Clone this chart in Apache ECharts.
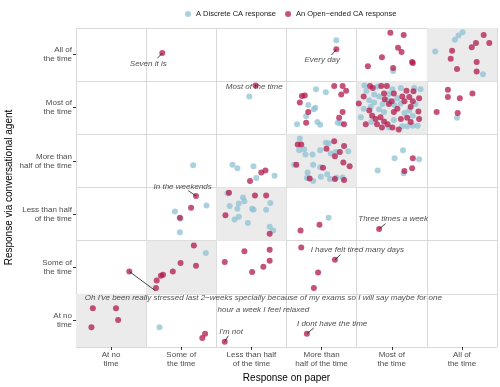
<!DOCTYPE html>
<html>
<head>
<meta charset="utf-8">
<script src="https://cdn.jsdelivr.net/npm/echarts@6/dist/echarts.min.js"></script>
<style>html,body{margin:0;padding:0;background:#fff}#c{width:500px;height:387px}</style>
</head>
<body>
<div id="c"></div>
<script>
// Categories (x: response on paper, y: response via conversational agent; bottom to top)
const xCategories = ["At no\ntime", "Some of\nthe time", "Less than half\nof the time", "More than\nhalf of the time", "Most of\nthe time", "All of\nthe time"];
const yCategories = ["At no\ntime", "Some of\nthe time", "Less than half\nof the time", "More than\nhalf of the time", "Most of\nthe time", "All of\nthe time"];
const seriesNames = ["A Discrete CA response", "An Open\u2212ended CA response"];

// Jittered points: [x, y] where integer part = category index, fraction = jitter within cell
const discretePoints = [
  [3.71,5.77],[5.51,5.92],[5.45,5.86],[5.40,5.78],[5.12,5.56],[5.80,5.13],[4.52,5.19],
  [2.47,4.71],[3.42,4.85],[3.56,4.79],[3.31,4.55],[3.41,4.50],[3.39,4.47],[3.28,4.34],[3.15,4.19],[3.44,4.23],[3.48,4.18],[3.73,4.22],[3.77,4.21],
  [4.11,4.92],[4.30,4.90],[4.51,4.85],[4.63,4.87],[4.82,4.87],[4.14,4.82],[4.25,4.75],[4.46,4.76],[4.32,4.71],[4.44,4.64],[4.18,4.64],[4.58,4.68],
  [4.25,4.60],[4.63,4.58],[4.84,4.57],[4.10,4.48],[4.32,4.47],[4.39,4.42],[4.75,4.45],[4.80,4.35],[4.65,4.15],[4.72,4.15],[4.80,4.16],[4.87,4.16],
  [4.53,4.27],[4.20,4.52],[4.68,4.40],[4.37,4.57],[4.54,4.55],[4.06,4.32],[4.91,4.85],[4.46,4.13],[4.21,4.23],
  [5.43,4.31],
  [1.67,3.42],[2.23,3.43],[2.30,3.36],[2.53,3.40],[2.57,3.18],[2.83,3.22],
  [3.19,3.92],[3.18,3.70],[3.25,3.72],[3.27,3.62],[3.37,3.62],[3.48,3.70],[3.56,3.84],[3.60,3.83],[3.63,3.64],[3.70,3.67],[3.88,3.68],
  [3.11,3.43],[3.38,3.43],[3.48,3.38],[3.30,3.28],[3.38,3.12],[3.49,3.20],[3.58,3.25],[3.62,3.16],[3.71,3.19],[3.80,3.19],[3.29,3.18],
  [4.66,3.70],[4.54,3.55],[4.89,3.53],[4.30,3.32],[4.67,3.27],
  [1.86,2.66],[1.41,2.55],[1.49,2.41],[1.48,2.16],
  [2.16,2.89],[2.38,2.81],[2.40,2.74],[2.32,2.70],[2.77,2.71],[2.19,2.65],[2.30,2.60],[2.51,2.60],[2.53,2.58],[2.71,2.58],[2.32,2.45],[2.26,2.40],[2.45,2.33],[2.76,2.26],[2.81,2.19],
  [3.60,2.43],
  [1.85,1.77],
  [1.19,0.37]
];
const openEndedPoints = [
  [1.23,5.53],[3.71,5.60],
  [4.48,5.91],[4.67,5.87],[4.59,5.63],[4.64,5.55],[4.36,5.45],[4.16,5.28],[4.52,5.25],[4.79,5.36],[4.80,5.34],
  [5.81,5.87],[5.89,5.72],[5.70,5.72],[5.64,5.64],[5.36,5.57],[5.34,5.42],[5.71,5.36],[5.43,5.23],[5.71,5.18],
  [2.56,4.92],
  [3.68,4.91],[3.80,4.91],[3.85,4.82],[3.78,4.75],[3.22,4.72],[3.26,4.73],[3.19,4.60],[3.31,4.42],[3.80,4.42],[3.75,4.31],[3.28,4.22],[3.82,4.19],
  [4.19,4.91],[4.23,4.87],[4.35,4.91],[4.43,4.91],[4.71,4.82],[4.53,4.77],[4.39,4.77],[4.10,4.71],[4.40,4.66],[4.65,4.71],[4.75,4.70],[4.89,4.68],
  [4.50,4.62],[4.68,4.62],[4.80,4.62],[4.77,4.52],[4.18,4.45],[4.53,4.42],[4.88,4.43],[4.22,4.35],[4.34,4.32],[4.27,4.29],[4.63,4.29],[4.72,4.31],
  [4.89,4.29],[4.39,4.24],[4.44,4.19],[4.29,4.19],[4.36,4.13],[4.51,4.13],[4.77,4.23],[4.58,4.48],[4.46,4.57],[4.13,4.19],[4.60,4.09],[4.81,4.81],[4.03,4.58],
  [5.30,4.84],[5.65,4.77],[5.30,4.70],[5.47,4.68],[5.14,4.42],[5.44,4.40],
  [2.64,3.28],[2.70,3.32],[2.48,3.12],
  [3.16,3.81],[3.21,3.81],[3.68,3.87],[3.57,3.73],[3.69,3.59],[3.76,3.67],[3.82,3.78],[3.81,3.47],[3.90,3.40],[3.14,3.43],[3.52,3.37],[3.33,3.17],[3.69,3.16],[3.82,3.14],
  [4.80,3.55],[4.68,3.31],[4.79,3.36],
  [1.71,2.84],[1.64,2.62],[1.48,2.43],
  [2.18,2.90],[2.55,2.85],[2.71,2.85],[2.13,2.48],[2.76,2.13],
  [3.47,2.30],[3.20,2.19],
  [4.32,2.22],
  [0.76,1.42],
  [1.14,1.11],[1.15,1.25],[1.21,1.34],[1.24,1.36],[1.38,1.42],[1.49,1.58],[1.71,1.53],[1.68,1.91],
  [2.12,1.60],[2.40,1.80],[2.76,1.83],[2.76,1.62],[2.67,1.51],[2.51,1.41],
  [3.21,1.87],[3.69,1.64],[3.45,1.40],[3.39,1.11],
  [0.24,0.73],[0.57,0.73],[0.60,0.51],[0.22,0.37],
  [1.84,0.25],[1.80,0.17],
  [2.12,0.10],
  [3.29,0.25]
];

// Quotes: text, the point it refers to, where its label sits, end of its leader line
const annotationTexts = [
  "Seven it is", "Every day", "Most of the time", "In the weekends", "Three times a week",
  "I have felt tired many days", "I'm not", "I dont have the time",
  "Oh I've been really stressed last 2\u2212weeks specially because of my exams so I will say maybe for one\nhour a week I feel relaxed"
];
const annotationPoints = [[1.23,5.53],[3.71,5.60],[2.56,4.92],[1.71,2.84],[4.32,2.22],[3.69,1.64],[2.12,0.10],[3.29,0.25],[0.76,1.42]];
const annotationLabelAt = [[1.03,5.32],[3.51,5.40],[2.54,4.89],[1.52,3.02],[4.52,2.41],[4.01,1.82],[2.21,0.29],[3.65,0.43],[2.67,0.82]];
const annotationLineEnd = [[1.16,5.43],[3.64,5.49],null,[1.60,2.94],[4.41,2.32],[3.77,1.74],[2.17,0.21],[3.39,0.36],[1.13,1.06]];

const diagonalCells = [0,1,2,3,4,5];

const chart = echarts.init(document.getElementById('c'), null, {renderer: 'canvas'});
const FONT = 'Liberation Sans, Arial, sans-serif';
const gridColor = '#d9d9d9';

const lineData = [];
annotationPoints.forEach((p, i) => { if (annotationLineEnd[i]) lineData.push({coords: [p, annotationLineEnd[i]]}); });

chart.setOption({
  animation: false,
  backgroundColor: '#fff',
  textStyle: {fontFamily: FONT},
  legend: {
    data: seriesNames.map(n => ({name: n, icon: 'circle'})),
    left: 180, top: 5, itemWidth: 6, itemHeight: 6, itemGap: 9,
    textStyle: {fontSize: 7.5, color: '#1a1a1a', fontFamily: FONT}
  },
  grid: {left: 76, right: 3, top: 28, bottom: 40, containLabel: false, outerBoundsMode: 'none'},
  xAxis: [
    {type: 'value', min: 0, max: 6, interval: 1,
     axisLine: {show: false}, axisTick: {show: false}, axisLabel: {show: false},
     splitLine: {show: true, lineStyle: {color: gridColor, width: 1}}},
    {type: 'category', data: xCategories, position: 'bottom', boundaryGap: true,
     axisLine: {show: false}, axisTick: {show: true, alignWithLabel: true, length: 3, lineStyle: {color: '#333'}},
     axisLabel: {fontSize: 8, color: '#4d4d4d', lineHeight: 9, margin: 3, interval: 0},
     splitLine: {show: false},
     name: 'Response on paper', nameLocation: 'middle', nameGap: 26, nameMoveOverlap: false,
     nameTextStyle: {fontSize: 10, color: '#000', fontFamily: FONT}}
  ],
  yAxis: [
    {type: 'value', min: 0, max: 6, interval: 1,
     axisLine: {show: false}, axisTick: {show: false}, axisLabel: {show: false},
     splitLine: {show: true, lineStyle: {color: gridColor, width: 1}}},
    {type: 'category', data: yCategories, position: 'left', boundaryGap: true,
     axisLine: {show: false}, axisTick: {show: true, alignWithLabel: true, length: 3, lineStyle: {color: '#333'}},
     axisLabel: {fontSize: 8, color: '#4d4d4d', lineHeight: 9, margin: 4, interval: 0, align: 'right'},
     splitLine: {show: false},
     name: 'Response via conversational agent', nameLocation: 'middle', nameGap: 62, nameMoveOverlap: false,
     nameTextStyle: {fontSize: 10, color: '#000', fontFamily: FONT}}
  ],
  series: [
    {name: seriesNames[0], type: 'scatter', xAxisIndex: 0, yAxisIndex: 0, z: 3,
     symbolSize: 6, data: discretePoints,
     itemStyle: {color: '#8fc1d4', opacity: 0.75},
     markArea: {silent: true, z: 1, itemStyle: {color: '#ebebeb'},
       data: diagonalCells.map(i => [{coord: [i, i]}, {coord: [i + 1, i + 1]}])}},
    {name: seriesNames[1], type: 'scatter', xAxisIndex: 0, yAxisIndex: 0, z: 4,
     symbolSize: 6, data: openEndedPoints,
     itemStyle: {color: '#b2184b', opacity: 0.75}},
    {type: 'lines', coordinateSystem: 'cartesian2d', xAxisIndex: 0, yAxisIndex: 0, z: 5,
     silent: true, data: lineData,
     lineStyle: {color: '#1a1a1a', width: 0.8, opacity: 1}},
    {type: 'scatter', xAxisIndex: 0, yAxisIndex: 0, z: 6, silent: true,
     symbolSize: 1, itemStyle: {color: 'rgba(0,0,0,0)'},
     data: annotationTexts.map((t, i) => ({name: t, value: annotationLabelAt[i]})),
     label: {show: true, position: 'inside', formatter: '{b}', fontStyle: 'italic',
       fontSize: 8, color: '#1a1a1a', lineHeight: 12, align: 'center', verticalAlign: 'middle', fontFamily: FONT}}
  ]
});
</script>
</body>
</html>
